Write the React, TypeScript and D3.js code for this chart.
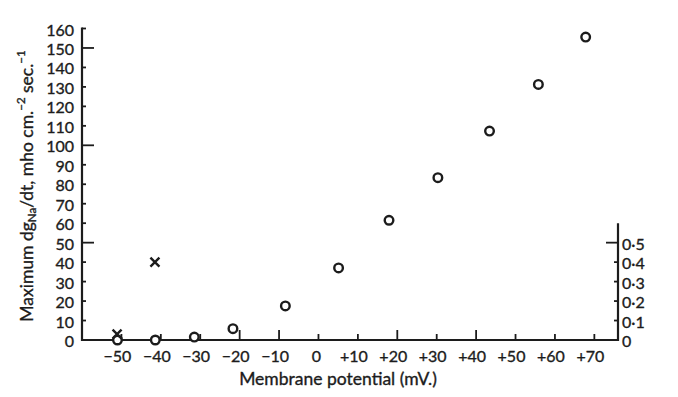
import React from "react";
import * as d3 from "d3";

const circlePotentials = [-51, -41.4, -31.5, -21.7, -8.4, 5.1, 17.9, 30.3, 43.4, 55.8, 67.8];
const circleValues = [0, 0, 1.5, 5.8, 17.5, 37, 61.5, 83.4, 107.3, 131.3, 155.6];
const crossPotentials = [-51.1, -41.5];
const crossValues = [0.03, 0.4];
const xTicks = [-50, -40, -30, -20, -10, 0, 10, 20, 30, 40, 50, 60, 70];
const xLongTicks = [-20, -10, 20, 40];
const yTicks = [0, 10, 20, 30, 40, 50, 60, 70, 80, 90, 100, 110, 120, 130, 140, 150, 160];
const yLongTicks = [50, 100, 150];
const y2Ticks = [0, 0.1, 0.2, 0.3, 0.4, 0.5];
const y2LongTicks = [0.5];

const W = 678;
const H = 397;
const FONT = "Lato, 'Open Sans', sans-serif";
const INK = "#1c1c1c";
const TXT = { fill: INK, stroke: INK, strokeWidth: 0.35 };

export default function App() {
  const x = d3.scaleLinear().domain([-60, 76]).range([82, 618]);
  const y = d3.scaleLinear().domain([0, 160]).range([340, 28.5]);
  const y2 = d3.scaleLinear().domain([0, 0.5]).range([340, y(50)]);

  const xLabel = (v: number) => (v > 0 ? `+${v}` : v < 0 ? `\u2212${-v}` : "0");
  const y2Label = (v: number) => (v === 0 ? "0" : d3.format(".1f")(v).replace(".", "\u00b7"));

  return (
    <svg
      width={W}
      height={H}
      viewBox={`0 0 ${W} ${H}`}
      style={{ position: "absolute", left: 0, top: 0, background: "#fff" }}
      fontFamily={FONT}
    >
      <rect x={0} y={0} width={W} height={H} fill="#fff" />
      {/* axes lines */}
      <path
        d={`M${x(-60)},${y(160) - 1}V${y(0)}H${x(76)}V${y2(0.6)}`}
        fill="none"
        stroke={INK}
        strokeWidth={2.2}
      />
      {/* left ticks */}
      {yTicks.map((t) => (
        <g key={"yt" + t}>
          {t > 0 && (
            <line
              x1={x(-60)}
              x2={x(-60) + (yLongTicks.includes(t) ? 12 : 4)}
              y1={y(t)}
              y2={y(t)}
              stroke={INK}
              strokeWidth={1.8}
            />
          )}
          <text
            x={x(-60) - 8}
            y={y(t) + 3}
            textAnchor="end"
            dominantBaseline="middle"
            fontSize={16}
            {...TXT}
          >
            {t}
          </text>
        </g>
      ))}
      {/* right ticks */}
      {y2Ticks.map((t) => (
        <g key={"y2t" + t}>
          {t > 0 && (
            <line
              x1={x(76)}
              x2={x(76) - (y2LongTicks.includes(t) ? 12 : 4)}
              y1={y2(t)}
              y2={y2(t)}
              stroke={INK}
              strokeWidth={1.8}
            />
          )}
          <text
            x={x(76) + 4}
            y={y2(t) + 3}
            textAnchor="start"
            dominantBaseline="middle"
            fontSize={16}
            {...TXT}
          >
            {y2Label(t)}
          </text>
        </g>
      ))}
      {/* x ticks */}
      {xTicks.map((t) => (
        <g key={"xt" + t}>
          <line
            x1={x(t)}
            x2={x(t)}
            y1={y(0)}
            y2={y(0) - (xLongTicks.includes(t) ? 10 : 6)}
            stroke={INK}
            strokeWidth={1.8}
          />
          <text
            x={x(t) - (t === 0 ? 2 : 4)}
            y={358}
            textAnchor="middle"
            dominantBaseline="middle"
            fontSize={16}
            {...TXT}
          >
            {xLabel(t)}
          </text>
        </g>
      ))}
      {/* axis titles */}
      <text x={338} y={381} textAnchor="middle" dominantBaseline="middle" fontSize={17.5} {...TXT}>
        Membrane potential (mV.)
      </text>
      <text
        transform={`translate(29,${186}) rotate(-90)`}
        textAnchor="middle"
        dominantBaseline="middle"
        fontSize={17.5}
        {...TXT}
      >
        Maximum dg
        <tspan fontSize={11.5} dy={4}>Na</tspan>
        <tspan dy={-4}>/dt, mho cm.</tspan>
        <tspan fontSize={11.5} dy={-7}>{"\u22122"}</tspan>
        <tspan dy={7}> sec.</tspan>
        <tspan fontSize={11.5} dy={-7}>{"\u22121"}</tspan>
      </text>
      {/* circles */}
      {circlePotentials.map((p, i) => (
        <circle
          key={"c" + i}
          cx={x(p)}
          cy={y(circleValues[i])}
          r={4.3}
          fill="#fff"
          stroke={INK}
          strokeWidth={2.4}
        />
      ))}
      {/* crosses */}
      {crossPotentials.map((p, i) => {
        const cx = x(p);
        const cy = y2(crossValues[i]);
        const s = 4.5;
        return (
          <path
            key={"x" + i}
            d={`M${cx - s},${cy - s}L${cx + s},${cy + s}M${cx + s},${cy - s}L${cx - s},${cy + s}`}
            stroke={INK}
            strokeWidth={2.4}
            fill="none"
          />
        );
      })}
    </svg>
  );
}
